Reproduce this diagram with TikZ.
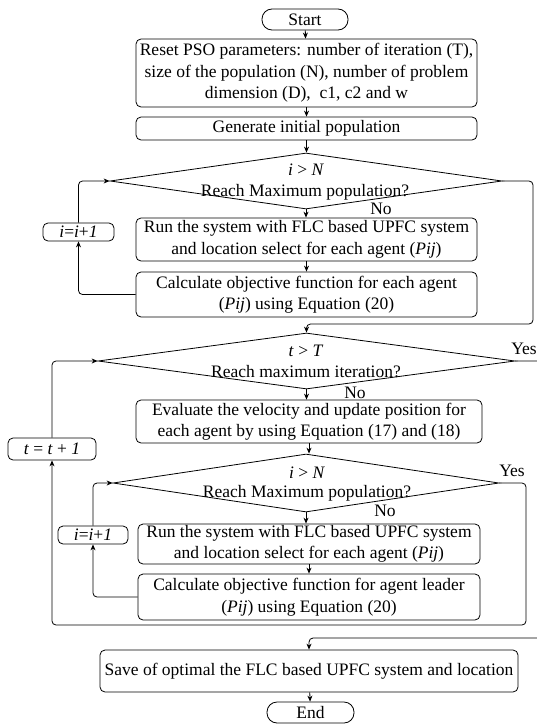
\documentclass[tikz,border=0pt]{standalone}
\usepackage{fontspec}
\setmainfont{Liberation Serif}
\usetikzlibrary{shapes.geometric,arrows.meta}
\begin{document}
\begin{tikzpicture}[x=1pt,y=-1pt,
  every node/.style={font=\fontsize{17.5}{21.5}\selectfont, inner sep=0pt},
  box/.style={draw, rounded corners=5pt, line width=0.8pt, align=center},
  term/.style={draw, rounded corners=10pt, line width=0.8pt},
  dia/.style={draw, diamond, line width=0.8pt, inner sep=0pt},
  arr/.style={-{Stealth[length=6pt,width=5pt]}, line width=0.8pt, rounded corners=4pt}]
\useasboundingbox (0,0) rectangle (537,725);
\fill[white] (0,0) rectangle (537,725);
% terminals
\node[term, minimum width=86pt, minimum height=21pt] (start) at (305,19.5) {Start};
\node[term, minimum width=87pt, minimum height=21pt] (end) at (310.5,712.5) {End};
% boxes
\node[box, minimum width=341pt, minimum height=68pt] (reset) at (306.5,73) {Reset PSO parameters: number of iteration (T),\\ size of the population (N), number of problem\\ dimension (D),~ c1, c2 and w};
\node[box, minimum width=341pt, minimum height=23pt] (gen) at (306.5,128.5) {Generate initial population};
\node[dia, minimum width=392pt, minimum height=56pt] (d1) at (306,181) {};
\node (d1a) at (306,170) {\textit{i} > \textit{N}};
\node (d1b) at (305,192) {Reach Maximum population?};
\node (no1) at (381,209) {No};
\node[box, minimum width=341pt, minimum height=43pt] (run1) at (306.5,239.5) {Run the system with FLC based UPFC system\\ and location select for each agent (\textit{Pij})};
\node[box, minimum width=341pt, minimum height=45pt] (calc1) at (306.5,294.5) {Calculate objective function for each agent\\ (\textit{Pij}) using Equation (20)};
\node[box, minimum width=71pt, minimum height=18pt] (i1) at (78.5,232) {\textit{i}=\textit{i}+\textit{1}};
\coordinate (r1) at (533,324);
\node[dia, minimum width=417pt, minimum height=56pt] (d2) at (306.5,361) {};
\node (d2a) at (306,351) {\textit{t} > \textit{T}};
\node (d2b) at (306,372) {Reach maximum iteration?};
\node (yes2) at (524,349) {Yes};
\node (no2) at (355,393) {No};
\node[box, minimum width=346pt, minimum height=43pt] (eval) at (309,421.5) {Evaluate the velocity and update position for\\ each agent by using Equation (17) and (18)};
\node[box, minimum width=88pt, minimum height=22pt] (t1) at (52,449) {\textit{t} = \textit{t} + \textit{1}};
\node[dia, minimum width=386pt, minimum height=58pt] (d3) at (306,483) {};
\node (d3a) at (307,473) {\textit{i} > \textit{N}};
\node (d3b) at (307,493) {Reach Maximum population?};
\node (yes3) at (512,471) {Yes};
\node (no3) at (385,511) {No};
\node[box, minimum width=342pt, minimum height=40pt] (run2) at (309,544) {Run the system with FLC based UPFC system\\ and location select for each agent (\textit{Pij})};
\node[box, minimum width=342pt, minimum height=46pt] (calc2) at (309,597) {Calculate objective function for agent leader\\ (\textit{Pij}) using Equation (20)};
\node[box, minimum width=70pt, minimum height=18pt] (i2) at (93,535) {\textit{i}=\textit{i}+\textit{1}};
\coordinate (r2) at (526,625);
\node[box, minimum width=418pt, minimum height=42pt] (save) at (309,671) {Save of optimal the FLC based UPFC system and location};
\coordinate (r3) at (560,638);
% connectors
\draw[arr] (start) -- (reset);
\draw[arr] (reset) -- (gen);
\draw[arr] (gen) -- (gen |- d1.north);
\draw[arr] (d1.south) -- (d1.south |- run1.north);
\draw[arr] (run1) -- (calc1);
\draw[arr] (calc1.west) -| (i1.south);
\draw[arr] (i1.north) |- (d1.west);
\draw[arr] (d1.east) -| (r1) -| (d2.north);
\draw[arr] (d2.south) -- (d2.south |- eval.north);
\draw[arr] (eval) -- (eval |- d3.north);
\draw[arr] (d3.south) -- (d3.south |- run2.north);
\draw[arr] (run2) -- (calc2);
\draw[arr] (calc2.west) -| (i2.south);
\draw[arr] (i2.north) |- (d3.west);
\draw[arr] (d3.east) -| (r2) -| (t1.south);
\draw[arr] (t1.north) |- (d2.west);
\begin{scope}
\clip (0,0) rectangle (537,725);
\draw[arr] (d2.east) -| (r3) -| (save.north);
\end{scope}
\draw[arr] (save) -- (end);
\end{tikzpicture}
\end{document}
